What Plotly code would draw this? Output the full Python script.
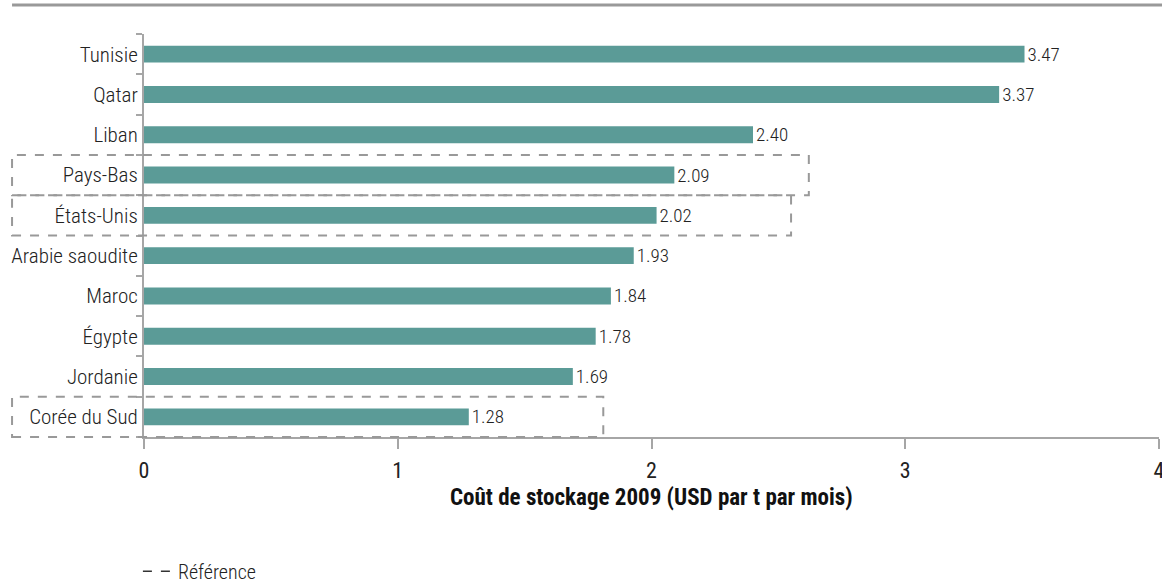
import plotly.graph_objects as go

# Data (top to bottom)
countries = ["Tunisie", "Qatar", "Liban", "Pays-Bas", "États-Unis",
             "Arabie saoudite", "Maroc", "Égypte", "Jordanie", "Corée du Sud"]
costs = [3.47, 3.37, 2.40, 2.09, 2.02, 1.93, 1.84, 1.78, 1.69, 1.28]
reference = ["Pays-Bas", "États-Unis", "Corée du Sud"]

x_max = 4
bar_color = "#5b9b97"
axis_grey = "#a6a6a6"
font_family = "Roboto Condensed, Liberation Sans Narrow, Arial Narrow, sans-serif"

fig = go.Figure()

fig.add_trace(go.Bar(
    x=costs,
    y=countries,
    orientation="h",
    marker=dict(color=bar_color, line=dict(width=0)),
    text=costs,
    texttemplate="%{x:.2f}",
    textposition="outside",
    constraintext="none",
    textfont=dict(size=19, color="#222222", weight=300),
    cliponaxis=False,
    showlegend=False,
    hoverinfo="skip",
))

# dummy trace for the legend entry
fig.add_trace(go.Scatter(
    x=[None], y=[None],
    mode="lines",
    line=dict(color="#333333", width=1.5, dash="dash"),
    name="Référence",
))

# dashed boxes around the reference countries
n = len(countries)
for i, c in enumerate(countries):
    if c in reference:
        fig.add_shape(
            type="rect",
            xref="paper", yref="paper",
            x0=-0.13, x1=(costs[i] + 0.53) / x_max,
            y0=1 - (i + 1) / n, y1=1 - i / n,
            line=dict(color="#999999", width=2, dash="dash"),
            layer="above",
        )

# grey rule at the top
fig.add_shape(
    type="line", xref="paper", yref="paper",
    x0=-0.13, x1=1.003, y0=1.072, y1=1.072,
    line=dict(color="#999999", width=3),
)

fig.add_annotation(
    text="<b>Coût de stockage 2009 (USD par t par mois)</b>",
    xref="paper", yref="paper",
    x=0.5, y=-0.149, yanchor="middle",
    showarrow=False,
    font=dict(size=23, color="#111111"),
)

fig.update_layout(
    width=1162,
    height=585,
    margin={'l': 144, 'b': 148, 't': 34, 'r': 3, 'autoexpand': False},
    paper_bgcolor="white",
    plot_bgcolor="white",
    font=dict(family=font_family, size=20, color="#222222", weight=300),
    bargap=0.58,
    showlegend=True,
    legend=dict(x=-0.006, y=-0.285, xanchor="left", yanchor="top",
                orientation="h", font=dict(size=20, weight=300), itemwidth=30,
                bgcolor="rgba(0,0,0,0)"),
    xaxis=dict(
        range=[0, x_max],
        tickvals=[0, 1, 2, 3, 4],
        showgrid=False,
        zeroline=False,
        showline=True,
        linecolor=axis_grey,
        linewidth=2,
        ticks="outside",
        ticklen=10,
        tickwidth=2,
        tickcolor=axis_grey,
        tickfont=dict(size=22, weight=400, color="#222222"),
        ticklabelstandoff=3,
        ticklabeloverflow="allow",
        fixedrange=True,
    ),
    yaxis=dict(
        categoryorder="array",
        categoryarray=countries[::-1],
        showgrid=False,
        showline=True,
        linecolor=axis_grey,
        linewidth=2,
        ticks="outside",
        tickson="boundaries",
        ticklen=6,
        tickwidth=2,
        tickcolor=axis_grey,
        tickfont=dict(size=21),
        fixedrange=True,
    ),
)

# drop the default 8px body margin so the figure sits at the window's corner
fig.write_html("out.html", config={"displayModeBar": False},
               post_script="document.body.style.margin='0';")
